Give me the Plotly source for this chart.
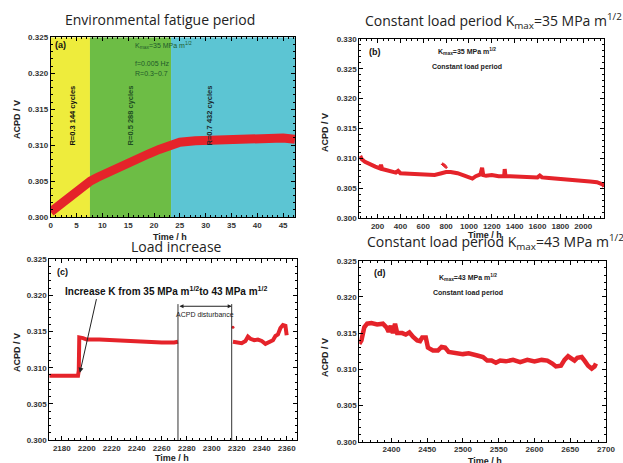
import plotly.graph_objects as go

# ---------------- data ----------------
# (a) environmental fatigue period
a_time = [0, 1, 2, 3, 4, 5, 6, 7, 7.7, 9, 11, 13, 15, 17, 19, 21, 23, 23.5, 25, 28, 31, 35, 40, 45, 47.3]
a_acpd = [0.3007, 0.3013, 0.3019, 0.3025, 0.3030, 0.3035, 0.3040, 0.3046, 0.3050, 0.3055, 0.3062,
          0.3070, 0.3077, 0.3083, 0.3088, 0.3094, 0.3100, 0.3102, 0.3104, 0.3106, 0.3107, 0.3108,
          0.3109, 0.3110, 0.3108]
a_band_edges = [0, 7.6, 23.3, 47.3]
a_band_labels = ["R=0.3 144 cycles", "R=0.5 288 cycles", "R=0.7 432 cycles"]

# (b) constant load period Kmax=35
b_time = [48, 60, 90, 130, 180, 220, 230, 240, 300, 360, 380, 400, 480, 560, 640, 700, 760, 800,
          840, 900, 960, 1000, 1030, 1060, 1100, 1115, 1125, 1150, 1200, 1260, 1308, 1313, 1320,
          1360, 1440, 1520, 1600, 1620, 1640, 1700, 1780, 1860, 1940, 2000, 2060, 2120, 2160,
          2175, 2182]
b_acpd = [0.3104, 0.3099, 0.3094, 0.3090, 0.3086, 0.3083, 0.3089, 0.3082, 0.3079, 0.3076, 0.3079,
          0.3075, 0.3074, 0.3073, 0.3073, 0.3072, 0.3075, 0.3077, 0.3077, 0.3075, 0.3071, 0.3068,
          0.3066, 0.3070, 0.3073, 0.3084, 0.3072, 0.3071, 0.3072, 0.3070, 0.3070, 0.3082, 0.3070,
          0.3070, 0.3069, 0.3069, 0.3068, 0.3071, 0.3068, 0.3067, 0.3066, 0.3065, 0.3063, 0.3062,
          0.3061, 0.3060, 0.3058, 0.3056, 0.3052]
b_scatter_time = [770, 780, 790, 800]
b_scatter_acpd = [0.3090, 0.3089, 0.3087, 0.3085]

# (c) load increase
c_time = [2170, 2180, 2190, 2193, 2193.6, 2194, 2197, 2200, 2210, 2220, 2230, 2240, 2250, 2260,
          2270, 2273, None, 2317, 2320, 2324, 2327, 2329, 2331, 2334, 2337, 2340, 2343, 2346,
          2349, 2351, 2353, 2355, 2357, 2359, 2360]
c_acpd = [0.3089, 0.3089, 0.3089, 0.3089, 0.3096, 0.3142, 0.3141, 0.3139, 0.3139, 0.3138, 0.3138,
          0.3137, 0.3136, 0.3135, 0.3135, 0.3136, None, 0.3136, 0.3135, 0.3134, 0.3137, 0.3143,
          0.3140, 0.3138, 0.3139, 0.3137, 0.3133, 0.3136, 0.3138, 0.3144, 0.3146, 0.3155, 0.3159,
          0.3158, 0.3145]
c_spike_time = [2317]
c_spike_acpd = [0.3156]
c_disturb_start = 2273
c_disturb_end = 2316
c_disturb_top = 0.3188
c_arrow_head = (2194.5, 0.3093)
c_arrow_tail = (2208, 0.3197)

# (d) constant load period Kmax=43
d_time = [2355, 2358, 2362, 2366, 2372, 2380, 2388, 2393, 2396, 2399, 2402, 2405, 2408, 2415, 2420,
          2425, 2430, 2436, 2440, 2443, 2448, 2451, 2458, 2465, 2470, 2475, 2480, 2490, 2500, 2508,
          2515, 2520, 2528, 2534, 2540, 2546, 2552, 2560, 2570, 2580, 2590, 2600, 2610, 2618, 2625,
          2630, 2637, 2642, 2647, 2652, 2656, 2660, 2666, 2670, 2675, 2680, 2684, 2686]
d_acpd = [0.3135, 0.3140, 0.3158, 0.3163, 0.3164, 0.3162, 0.3163, 0.3158, 0.3152, 0.3160, 0.3150,
          0.3163, 0.3150, 0.3150, 0.3148, 0.3151, 0.3145, 0.3140, 0.3139, 0.3144, 0.3144, 0.3130,
          0.3126, 0.3126, 0.3131, 0.3130, 0.3124, 0.3123, 0.3121, 0.3122, 0.3121, 0.3119, 0.3117,
          0.3112, 0.3112, 0.3109, 0.3112, 0.3111, 0.3113, 0.3110, 0.3113, 0.3111, 0.3113, 0.3112,
          0.3108, 0.3104, 0.3105, 0.3113, 0.3118, 0.3114, 0.3112, 0.3116, 0.3117, 0.3112, 0.3105,
          0.3101, 0.3104, 0.3108]

# ---------------- styling ----------------
RED = "#e5232a"
BAND_COLORS = ["#eeec3c", "#6dbd45", "#5cc5d3"]
FAM = "Liberation Sans, Arial"
TICKFONT = dict(family=FAM, size=8, color="#333333", weight="bold")
AXTITLE = dict(family=FAM, size=9, color="#222222", weight="bold")
TITLEFONT = dict(family="Open Sans", size=14, color="#222222")
W, H = 623, 463

fig = go.Figure()

domains = {
    "a": dict(x=[0.0814, 0.4735], y=[0.5313, 0.9194]),
    "b": dict(x=[0.5767, 0.9700], y=[0.5292, 0.9158]),
    "c": dict(x=[0.0791, 0.4762], y=[0.0497, 0.4400]),
    "d": dict(x=[0.5767, 0.9727], y=[0.0460, 0.4369]),
}
ranges = {
    "a": dict(x=[0, 47.3], y=[0.300, 0.325], dtick=5, minor=1),
    "b": dict(x=[40, 2185], y=[0.300, 0.330], dtick=200, minor=50),
    "c": dict(x=[2170, 2368], y=[0.300, 0.325], dtick=20, minor=5),
    "d": dict(x=[2355, 2700], y=[0.300, 0.325], dtick=50, minor=10),
}
axis_ids = {"a": ("x", "y"), "b": ("x2", "y2"), "c": ("x3", "y3"), "d": ("x4", "y4")}
tick0 = {"a": 0, "b": 0, "c": 2180, "d": 2400}

layout = {}
for i, k in enumerate(["a", "b", "c", "d"]):
    n = "" if i == 0 else str(i + 1)
    xa, ya = axis_ids[k]
    common = dict(showline=True, linecolor="black", linewidth=1, mirror="ticks", ticks="inside",
                  ticklen=4, tickcolor="black", tickfont=TICKFONT, showgrid=False, zeroline=False,
                  automargin=False)
    layout["xaxis" + n] = dict(domain=domains[k]["x"], range=ranges[k]["x"], anchor=ya,
                               dtick=ranges[k]["dtick"], tick0=tick0[k],
                               minor=dict(dtick=ranges[k]["minor"], ticks="inside", ticklen=2,
                                          tickcolor="black", showgrid=False), **common)
    layout["yaxis" + n] = dict(domain=domains[k]["y"], range=ranges[k]["y"], anchor=xa,
                               dtick=0.005, tickformat=".3f",
                               minor=dict(dtick=0.001, ticks="inside", ticklen=2,
                                          tickcolor="black", showgrid=False), **common)

fig.update_layout(**layout)

# bands in (a)
shapes = []
for j in range(3):
    shapes.append(dict(type="rect", xref="x", yref="y", x0=a_band_edges[j], x1=a_band_edges[j + 1],
                       y0=0.300, y1=0.325, fillcolor=BAND_COLORS[j], line=dict(width=0), layer="below"))
# disturbance lines in (c)
for xv in [c_disturb_start, c_disturb_end]:
    shapes.append(dict(type="line", xref="x3", yref="y3", x0=xv, x1=xv, y0=0.300, y1=c_disturb_top,
                       line=dict(color="#333333", width=1)))

# traces
fig.add_trace(go.Scatter(x=a_time, y=a_acpd, xaxis="x", yaxis="y", mode="lines",
                         line=dict(color=RED, width=9), showlegend=False))
fig.add_trace(go.Scatter(x=b_time, y=b_acpd, xaxis="x2", yaxis="y2", mode="lines",
                         line=dict(color=RED, width=4), showlegend=False))
fig.add_trace(go.Scatter(x=b_scatter_time, y=b_scatter_acpd, xaxis="x2", yaxis="y2", mode="markers",
                         marker=dict(color=RED, size=3, symbol="cross"), showlegend=False))
fig.add_trace(go.Scatter(x=c_time, y=c_acpd, xaxis="x3", yaxis="y3", mode="lines",
                         line=dict(color=RED, width=4), connectgaps=False, showlegend=False))
fig.add_trace(go.Scatter(x=c_spike_time, y=c_spike_acpd, xaxis="x3", yaxis="y3", mode="markers",
                         marker=dict(color=RED, size=3), showlegend=False))
fig.add_trace(go.Scatter(x=d_time, y=d_acpd, xaxis="x4", yaxis="y4", mode="lines",
                         line=dict(color=RED, width=4.5), showlegend=False))


def px(x, y, text, font, angle=0, xanchor="center", yanchor="middle"):
    return dict(text=text, xref="paper", yref="paper", x=x / W, y=1 - y / H, xanchor=xanchor,
                yanchor=yanchor, showarrow=False, font=font, textangle=angle)


SMALL = dict(family=FAM, size=7, color="#222222", weight="bold")
ann = []
# axis titles
for (tx, ty), (yx, yy) in [((170, 237), (17, 120)), ((485, 235), (325, 133)),
                           ((172, 458), (17, 353)), ((485, 461), (325, 358))]:
    ann.append(px(tx, ty, "Time / h", AXTITLE))
    ann.append(px(yx, yy, "ACPD / V", AXTITLE, angle=-90))

# panel letters
for k, (xa, ya), xd, yd in [("a", ("x", "y"), 0.01, 0.955), ("b", ("x2", "y2"), 0.03, 0.93),
                            ("c", ("x3", "y3"), 0.025, 0.93), ("d", ("x4", "y4"), 0.05, 0.93)]:
    ann.append(dict(text=f"({k})", xref=xa + " domain", yref=ya + " domain", x=xd, y=yd,
                    xanchor="left", yanchor="middle", showarrow=False,
                    font=dict(family=FAM, size=9, color="#111", weight="bold")))

# panel (a) texts
GREEN_TXT = dict(family=FAM, size=7, color="#1f5a2a")
ann += [
    dict(text="K<sub>max</sub>=35 MPa m<sup>1/2</sup>", xref="x", yref="y", x=15.9, y=0.3238,
         xanchor="left", yanchor="middle", showarrow=False, font=GREEN_TXT),
    dict(text="f=0.005 Hz", xref="x", yref="y", x=15.9, y=0.3214, xanchor="left", yanchor="middle",
         showarrow=False, font=GREEN_TXT),
    dict(text="R=0.3~0.7", xref="x", yref="y", x=15.9, y=0.3200, xanchor="left", yanchor="middle",
         showarrow=False, font=GREEN_TXT),
]
for lbl, xv, col in zip(a_band_labels, [4.3, 15.5, 30.8], ["#111111", "#1f4f22", "#1a2a2e"]):
    ann.append(dict(text=lbl, xref="x", yref="y", x=xv, y=0.3141, textangle=-90, showarrow=False,
                    xanchor="center", yanchor="middle",
                    font=dict(family=FAM, size=7.5, color=col, weight="bold")))

# panel (b)
ann += [
    dict(text="K<sub>max</sub>=35 MPa m<sup>1/2</sup>", xref="x2 domain", yref="y2 domain", x=0.44,
         y=0.93, xanchor="center", yanchor="middle", showarrow=False, font=SMALL),
    dict(text="Constant load period", xref="x2 domain", yref="y2 domain", x=0.44, y=0.845,
         xanchor="center", yanchor="middle", showarrow=False, font=SMALL),
]
# panel (d)
ann += [
    dict(text="K<sub>max</sub>=43 MPa m<sup>1/2</sup>", xref="x4 domain", yref="y4 domain", x=0.44,
         y=0.905, xanchor="center", yanchor="middle", showarrow=False, font=SMALL),
    dict(text="Constant load period", xref="x4 domain", yref="y4 domain", x=0.44, y=0.82,
         xanchor="center", yanchor="middle", showarrow=False, font=SMALL),
]
# panel (c)
ann += [
    dict(text="Increase K from 35 MPa m<sup>1/2</sup>to 43 MPa m<sup>1/2</sup>", xref="x3 domain",
         yref="y3 domain", x=0.47, y=0.825, xanchor="center", yanchor="middle", showarrow=False,
         font=dict(family=FAM, size=10, color="#111", weight="bold")),
    dict(text="", xref="x3", yref="y3", x=c_arrow_head[0], y=c_arrow_head[1], axref="x3", ayref="y3",
         ax=c_arrow_tail[0], ay=c_arrow_tail[1], showarrow=True, arrowhead=2, arrowsize=1,
         arrowwidth=1, arrowcolor="#222"),
    dict(text="", xref="x3", yref="y3", x=c_disturb_end, y=c_disturb_top - 0.0003, axref="x3",
         ayref="y3", ax=c_disturb_start, ay=c_disturb_top - 0.0003, showarrow=True, arrowhead=2,
         arrowside="end+start", arrowsize=0.8, arrowwidth=1, arrowcolor="#222"),
    dict(text="ACPD disturbance", xref="x3", yref="y3", x=(c_disturb_start + c_disturb_end) / 2,
         y=0.3174, xanchor="center", yanchor="middle", showarrow=False,
         font=dict(family=FAM, size=7, color="#222")),
]

# panel titles
ann += [
    px(160, 19, "Environmental fatigue period", TITLEFONT),
    px(493, 21, "Constant load period K<sub>max</sub>=35 MPa m<sup>1/2</sup>", TITLEFONT),
    px(176, 246, "Load increase", TITLEFONT),
    px(495, 242, "Constant load period K<sub>max</sub>=43 MPa m<sup>1/2</sup>", TITLEFONT),
]

fig.update_layout(width=W, height=H, margin=dict(l=0, r=0, t=0, b=0),
                  paper_bgcolor="white", plot_bgcolor="white", shapes=shapes, annotations=ann,
                  showlegend=False)

fig.write_html("out.html", config={"displayModeBar": False},
               post_script="document.body.style.margin='0';document.body.style.overflow='hidden';")
